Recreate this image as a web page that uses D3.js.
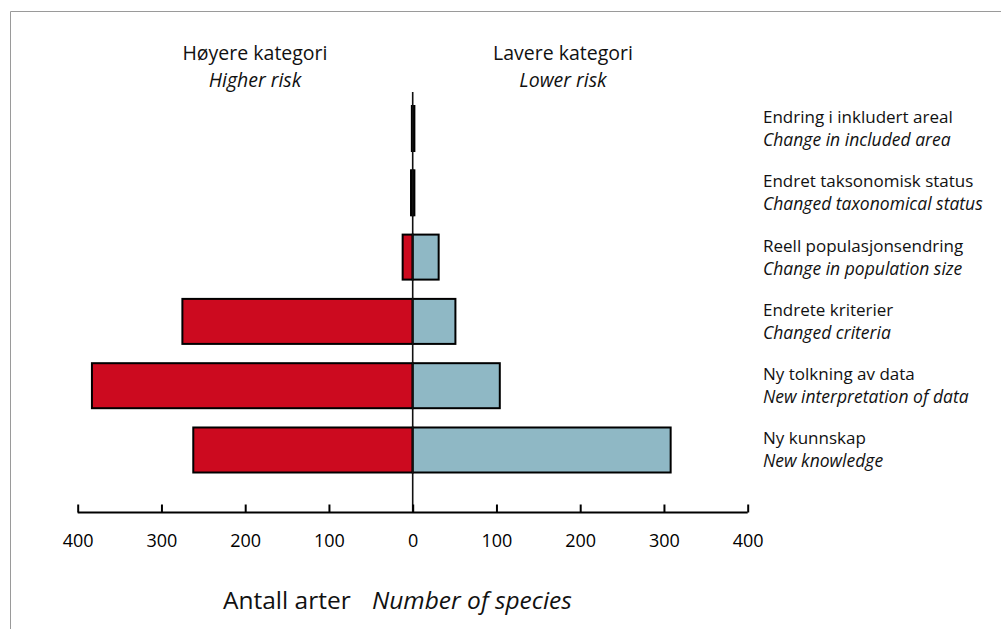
<!DOCTYPE html>
<html><head><meta charset="utf-8">
<script src="https://cdn.jsdelivr.net/npm/d3@7"></script>
<style>
html,body{margin:0;padding:0;background:#fff;}
svg{display:block;font-family:"Open Sans","Noto Sans",sans-serif;}
</style></head>
<body>
<svg id="c" width="1001" height="629"></svg>
<script>
const categories = ["Endring i inkludert areal","Endret taksonomisk status","Reell populasjonsendring","Endrete kriterier","Ny tolkning av data","Ny kunnskap"];
const categoriesEn = ["Change in included area","Changed taxonomical status","Change in population size","Changed criteria","New interpretation of data","New knowledge"];
const higherRisk = [1, 2, 12, 275, 383, 262];
const lowerRisk = [2, 2, 31, 51, 104, 308];
const tickValues = [-400,-300,-200,-100,0,100,200,300,400];

const svg = d3.select("#c");
// frame
svg.append("path").attr("d","M10.5,629 L10.5,11.5 L1001,11.5").attr("fill","none").attr("stroke","#9a9a9a").attr("stroke-width",1);

const x = d3.scaleLinear().domain([-400,400]).range([77.7,747.7]);
const y = d3.scaleBand().domain(categories).range([106,472.5]).paddingInner(0.3).paddingOuter(0);

const g = svg.append("g");
g.selectAll("rect.hi").data(categories).join("rect").attr("class","hi")
 .attr("x",(d,i)=>x(-higherRisk[i])).attr("width",(d,i)=>x(0)-x(-higherRisk[i]))
 .attr("y",d=>y(d)).attr("height",y.bandwidth())
 .attr("fill","#cc0a1f").attr("stroke","#000").attr("stroke-width",2);
g.selectAll("rect.lo").data(categories).join("rect").attr("class","lo")
 .attr("x",x(0)).attr("width",(d,i)=>x(lowerRisk[i])-x(0))
 .attr("y",d=>y(d)).attr("height",y.bandwidth())
 .attr("fill","#8fb8c5").attr("stroke","#000").attr("stroke-width",2);

// zero line
svg.append("line").attr("x1",x(0)).attr("x2",x(0)).attr("y1",92).attr("y2",512.5)
 .attr("stroke","#111").attr("stroke-width",1.6);

// axis
const axis = d3.axisTop(x).tickValues(tickValues).tickSize(8).tickFormat(d=>Math.abs(d));
const ag = svg.append("g").attr("transform","translate(0,512.5)").call(axis);
ag.select(".domain").attr("stroke","#000").attr("stroke-width",2.2).attr("d",`M${x(-400)},0H${x(400)}`);
ag.selectAll(".tick line").attr("stroke","#000").attr("stroke-width",2);
ag.selectAll(".tick text").attr("y",34).attr("dy",0).attr("fill","#000")
 .style("font-size","18px").style("font-family","'Open Sans',sans-serif");

// right labels
const lab = svg.append("g");
categories.forEach((c,i)=>{
  lab.append("text").attr("x",763).attr("y",y(c)+17).text(c).style("font-size","17px").attr("fill","#111");
  lab.append("text").attr("x",763).attr("y",y(c)+40).text(categoriesEn[i]).style("font-size","17.5px").style("font-style","italic").attr("fill","#111");
});

// headers
const hdr = [["Høyere kategori","Higher risk",255],["Lavere kategori","Lower risk",563]];
hdr.forEach(h=>{
  svg.append("text").attr("x",h[2]).attr("y",60).attr("text-anchor","middle").text(h[0]).style("font-size","19.5px").attr("fill","#111");
  svg.append("text").attr("x",h[2]).attr("y",87).attr("text-anchor","middle").text(h[1]).style("font-size","19.5px").style("font-style","italic").attr("fill","#111");
});

// axis title
const t = svg.append("text").attr("x",223).attr("y",609).style("font-size","24.5px").attr("fill","#111");
t.append("tspan").text("Antall arter");
t.append("tspan").attr("x",372).text("Number of species").style("font-style","italic");
</script>
</body></html>
